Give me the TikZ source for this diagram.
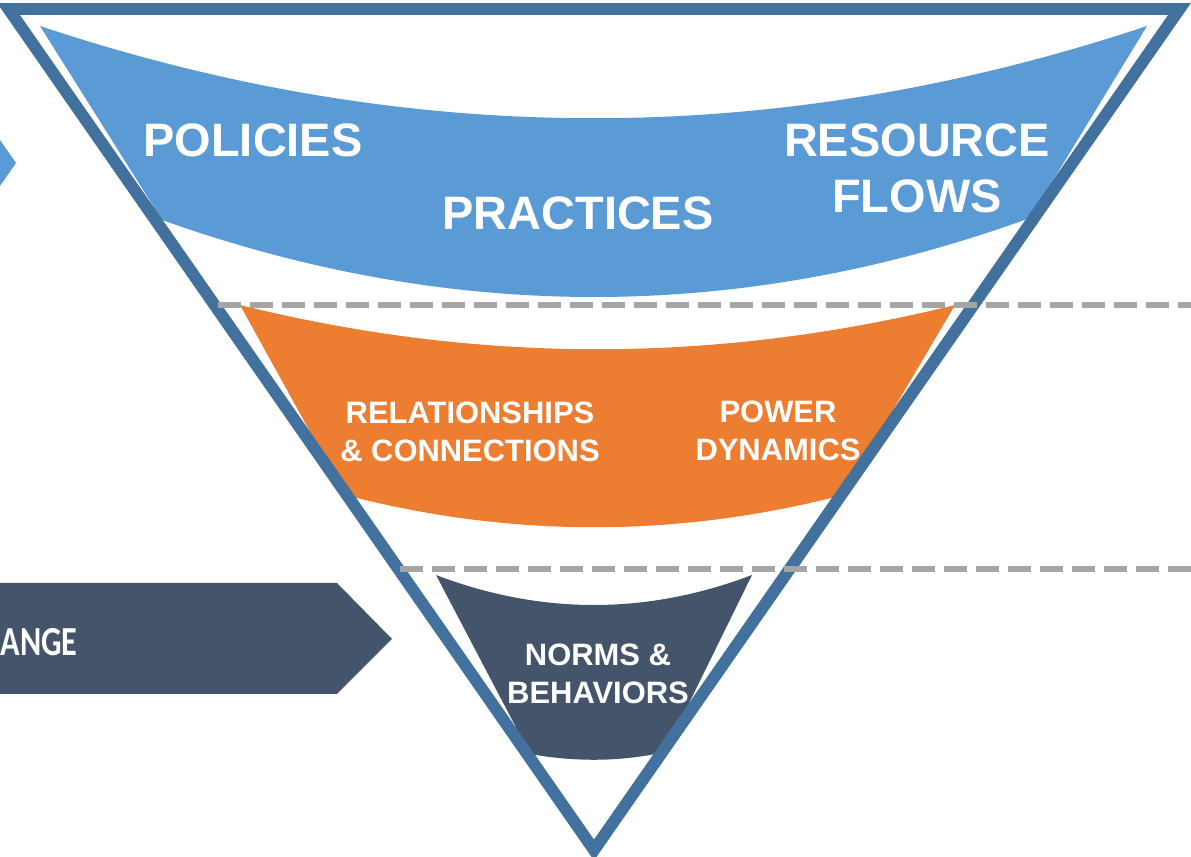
\documentclass[tikz,border=0pt]{standalone}
\usepackage{fontspec}
\setmainfont{Liberation Sans}
\newfontfamily\chevfont[FakeStretch=0.78]{Carlito}
\usetikzlibrary{calc}

\definecolor{frameblue}{HTML}{41719C}
\definecolor{bandblue}{HTML}{5B9BD5}
\definecolor{bandorange}{HTML}{ED7D31}
\definecolor{bandnavy}{HTML}{44546A}
\definecolor{dashgray}{HTML}{A5A5A5}

\begin{document}
\begin{tikzpicture}[x=0.02cm,y=-0.02cm]
      \tikzset{band label/.style={text=white, align=center, inner sep=0pt},
        big label/.style={band label, font=\fontsize{26.7}{31.8}\selectfont\bfseries},
        small label/.style={band label, font=\fontsize{17.6}{21.5}\selectfont\bfseries},
        chevron label/.style={band label, font=\chevfont\fontsize{23.5}{28}\selectfont\bfseries},
        level line/.style={dashgray, line width=3.97pt, dash pattern=on 0.46cm off 0.18cm}
      }
      \useasboundingbox (0,0) rectangle (1191,857);
      % arrows coming in from the left
      \fill [bandblue] (-5,140) -- (0,140) -- (16,163) -- (0,186) -- (-5,186) -- cycle;
      \fill [bandnavy] (-10,583) -- (337,583) -- (392,639) -- (337,694) -- (-10,694) -- cycle;
      % the three curved bands
      \fill [bandblue] (40,26) .. controls (409,149) and (778,149) .. (1147,26)
        -- (1030,218) .. controls (741,323) and (451,323) .. (162,220) -- cycle;
      \fill [bandorange] (240,305) .. controls (478,364) and (716,364) .. (955,305)
        -- (843,495) .. controls (677,538) and (511,538) .. (345,495) -- cycle;
      \fill [bandnavy] (436,575) .. controls (541,615) and (647,615) .. (752,575)
        -- (665,752) .. controls (620,762) and (575,762) .. (530,754) -- cycle;
      % funnel outline
      \coordinate (tl) at (8.5,9);
      \coordinate (tr) at (1179.5,9);
      \coordinate (tip) at (594,850);
      \draw [frameblue, line width=6.8pt, line join=miter] (tl) -- (tr) -- (tip) -- cycle;
      % level separators
      \coordinate (upper start) at (218,305);
      \coordinate (upper end) at (1191,305);
      \coordinate (lower start) at (400,569);
      \coordinate (lower end) at (1191,569);
      \draw [level line] (upper start) -- (upper end);
      \draw [level line] (lower start) -- (lower end);
      % labels
      \node [big label] (policies) at (253,140) {POLICIES};
      \node [big label] (practices) at (578,213) {PRACTICES};
      \node [big label] (resources) at (917,168) {RESOURCE\\FLOWS};
      \node [small label] (relations) at (470,432) {RELATIONSHIPS\\\& CONNECTIONS};
      \node [small label] (power) at (778,431) {POWER\\DYNAMICS};
      \node [small label] (norms) at (598,674) {NORMS \&\\BEHAVIORS};
      \node [chevron label, anchor=east] (change) at (78,642) {ANGE};
\end{tikzpicture}
\end{document}
